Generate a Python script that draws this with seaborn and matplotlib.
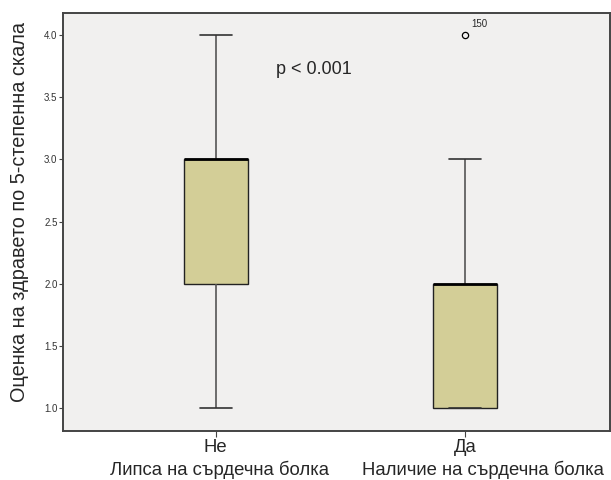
import numpy as np
import pandas as pd
import seaborn as sns
import matplotlib.pyplot as plt
import matplotlib.transforms as mtransforms

# health self-rating (5-point scale) by presence of heart pain
SCORES = [1, 2, 3, 4]
COUNTS_NO_PAIN = [5, 30, 40, 10]
COUNTS_PAIN = [30, 35, 10, 1]
GROUPS = ["Не", "Да"]
GROUP_DESCRIPTIONS = ["Липса на сърдечна болка", "Наличие на сърдечна болка"]
OUTLIER_ID = "150"
OUTLIER_VALUE = 4.0
P_TEXT = "p < 0.001"
Y_TICKS = [1.0, 1.5, 2.0, 2.5, 3.0, 3.5, 4.0]

df = pd.DataFrame({
    "group": [GROUPS[0]] * sum(COUNTS_NO_PAIN) + [GROUPS[1]] * sum(COUNTS_PAIN),
    "score": np.concatenate([np.repeat(SCORES, COUNTS_NO_PAIN),
                             np.repeat(SCORES, COUNTS_PAIN)]).astype(float),
})

sns.set_style("ticks")
plt.rcParams["font.family"] = ["Liberation Sans", "DejaVu Sans"]

fig = plt.figure(figsize=(6.11, 4.8), dpi=100)
ax = fig.add_axes([63 / 611, 1 - 431 / 480, 547 / 611, 418 / 480])
ax.set_facecolor("#F1F0EF")

sns.boxplot(
    data=df, x="group", y="score", order=GROUPS, ax=ax,
    color="#D3CE97", saturation=1, width=0.256, whis=1.5,
    linecolor="#222222", linewidth=1.0,
    medianprops={"color": "black", "linewidth": 2.0},
    whiskerprops={"color": "#555555", "linewidth": 1.2},
    capprops={"color": "#333333", "linewidth": 1.2},
    flierprops={"marker": "o", "markerfacecolor": "none",
                "markeredgecolor": "black", "markersize": 4.5,
                "markeredgewidth": 0.9},
)

ax.annotate(OUTLIER_ID, xy=(1, OUTLIER_VALUE), xytext=(6, 6),
            textcoords="offset pixels", fontsize=7, ha="left", va="bottom")
ax.text(0.24, 3.72, P_TEXT, fontsize=13, ha="left", va="center")

# second line of the category labels, placed as SPSS does (slightly off-centre)
trans = mtransforms.blended_transform_factory(ax.transData, ax.transAxes)
for i, desc in enumerate(GROUP_DESCRIPTIONS):
    ax.text(i + (0.016, 0.072)[i], -0.093, desc, transform=trans,
            fontsize=13.3, ha="center", va="center")

ax.set_xlim(-0.612, 1.58)
ax.set_ylim(0.815, 4.177)
ax.set_yticks(Y_TICKS)
ax.set_yticklabels([f"{t:.1f}" for t in Y_TICKS], fontsize=7, color="#333333")
ax.tick_params(axis="x", labelsize=13.3, length=4, color="#444444", pad=2)
ax.tick_params(axis="y", length=3, color="#444444", pad=1)
ax.set_xlabel("")
ax.set_ylabel("Оценка на здравето по 5-степенна скала", fontsize=14.3)
ax.yaxis.set_label_coords(-0.063, 0.525)

for side in ["left", "bottom", "top", "right"]:
    ax.spines[side].set_visible(True)
    ax.spines[side].set_color("#444444")
    ax.spines[side].set_linewidth(1.4)

fig.savefig("out.png", dpi=100, facecolor="white")
